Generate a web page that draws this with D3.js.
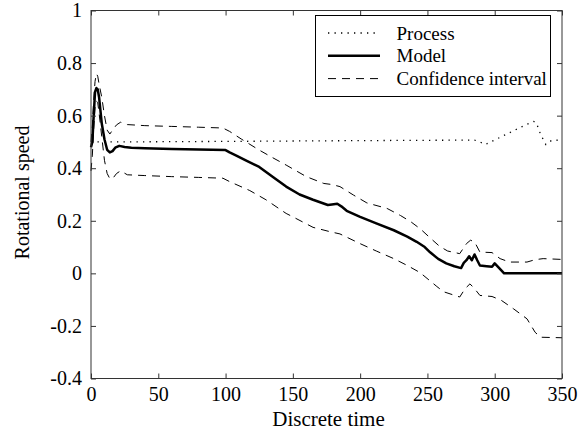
<!DOCTYPE html>
<html><head><meta charset="utf-8">
<script src="https://cdn.jsdelivr.net/npm/d3@7"></script>
<style>body{margin:0;background:#fff}svg{display:block}</style>
</head><body>
<script>
const xTicks = [0,50,100,150,200,250,300,350];
const yTicks = [-0.4,-0.2,0,0.2,0.4,0.6,0.8,1];
const seriesNames = ["Process","Model","Confidence interval"];

const processData = [[0,0.5],[20,0.5],[100,0.502],[200,0.505],[285,0.507],[289,0.5],[293,0.49],[297,0.5],[305,0.52],[315,0.545],[323,0.565],[329,0.578],[331,0.572],[334,0.53],[338,0.49],[342,0.505],[350,0.508]];
const modelData = [[0,0.48],[1,0.5],[2,0.6],[3,0.69],[4,0.705],[5,0.70],[6,0.67],[7,0.62],[8,0.57],[10,0.51],[12,0.47],[14,0.46],[16,0.465],[18,0.478],[21,0.485],[25,0.481],[30,0.478],[40,0.476],[60,0.473],[80,0.471],[100,0.469],[103,0.46],[108,0.448],[115,0.43],[125,0.405],[137,0.36],[145,0.33],[155,0.3],[165,0.28],[176,0.26],[179,0.262],[183,0.265],[186,0.255],[190,0.238],[200,0.215],[212,0.19],[225,0.164],[235,0.14],[242,0.12],[248,0.1],[252,0.08],[258,0.055],[264,0.038],[270,0.027],[275,0.02],[277,0.04],[279,0.05],[281,0.065],[283,0.05],[285,0.072],[287,0.05],[289,0.03],[294,0.027],[298,0.025],[300,0.038],[303,0.022],[307,0.0],[350,0]];
const upperData = [[0,0.5],[1,0.56],[2,0.66],[3,0.73],[4,0.76],[5,0.75],[6,0.72],[8,0.67],[10,0.6],[12,0.545],[14,0.53],[16,0.545],[19,0.565],[22,0.575],[27,0.566],[40,0.562],[60,0.559],[80,0.556],[98,0.553],[103,0.54],[112,0.51],[125,0.469],[135,0.44],[145,0.412],[160,0.368],[173,0.342],[179,0.338],[185,0.33],[195,0.298],[205,0.268],[220,0.247],[230,0.22],[238,0.195],[245,0.168],[252,0.135],[259,0.103],[265,0.085],[274,0.075],[279,0.113],[282,0.126],[285,0.12],[289,0.081],[298,0.079],[304,0.056],[311,0.043],[324,0.043],[330,0.052],[336,0.056],[350,0.053]];
const lowerData = [[0,0.39],[1,0.45],[2,0.55],[3,0.63],[4,0.655],[5,0.65],[6,0.61],[8,0.52],[10,0.43],[12,0.38],[14,0.36],[16,0.36],[19,0.38],[22,0.39],[27,0.375],[40,0.372],[60,0.368],[80,0.365],[98,0.362],[103,0.349],[118,0.315],[130,0.28],[145,0.228],[150,0.215],[165,0.175],[178,0.158],[185,0.15],[200,0.113],[212,0.085],[225,0.056],[235,0.03],[244.5,0.003],[257,-0.05],[262,-0.07],[274,-0.09],[278,-0.058],[281.6,-0.04],[285,-0.058],[289,-0.084],[298,-0.088],[305,-0.103],[314,-0.135],[324,-0.173],[330,-0.224],[334,-0.243],[350,-0.245]];

const FONT = "'Liberation Serif', Tinos, 'Times New Roman', Times, 'DejaVu Serif', serif";
const W = 586, H = 434;
const L = 91, R = 562, T = 10.5, B = 378.5;
const svg = d3.select("body").append("svg").attr("width", W).attr("height", H).style("font-family", FONT);
const x = d3.scaleLinear().domain([0,350]).range([L,R]);
const y = d3.scaleLinear().domain([-0.4,1]).range([B,T]);
const line = d3.line().x(d=>x(d[0])).y(d=>y(d[1]));

const g = svg.append("g");
g.append("path").datum(processData).attr("d",line).attr("fill","none").attr("stroke","#000").attr("stroke-width",1.3).attr("stroke-dasharray","1.3,5.2");
g.append("path").datum(upperData).attr("d",line).attr("fill","none").attr("stroke","#000").attr("stroke-width",1).attr("stroke-dasharray","8,6");
g.append("path").datum(lowerData).attr("d",line).attr("fill","none").attr("stroke","#000").attr("stroke-width",1).attr("stroke-dasharray","8,6");
g.append("path").datum(modelData).attr("d",line).attr("fill","none").attr("stroke","#000").attr("stroke-width",2.5).attr("stroke-linejoin","round");

const fmt = d => String(+d.toFixed(1));
const tl = 5;
const axB = d3.axisBottom(x).tickValues(xTicks).tickSizeInner(-tl).tickSizeOuter(0).tickPadding(8).tickFormat(d=>String(d));
const axT = d3.axisTop(x).tickValues(xTicks).tickSizeInner(-tl).tickSizeOuter(0).tickFormat("");
const axL = d3.axisLeft(y).tickValues(yTicks).tickSizeInner(-tl).tickSizeOuter(0).tickPadding(9).tickFormat(fmt);
const axR = d3.axisRight(y).tickValues(yTicks).tickSizeInner(-tl).tickSizeOuter(0).tickFormat("");
function style(sel){sel.attr("font-family",null).attr("font-size",null);sel.select(".domain").remove();sel.selectAll(".tick line").attr("stroke","#333");sel.selectAll("text").style("font-family",FONT).style("font-size","20px").attr("fill","#000");}
svg.append("g").attr("transform",`translate(0,${B})`).call(axB).call(style);
svg.append("g").attr("transform",`translate(0,${T})`).call(axT).call(style);
svg.append("g").attr("transform",`translate(${L},0)`).call(axL).call(style);
svg.append("g").attr("transform",`translate(${R},0)`).call(axR).call(style);
svg.append("rect").attr("x",L).attr("y",T).attr("width",R-L).attr("height",B-T).attr("fill","none").attr("stroke","#333").attr("stroke-width",1);

svg.append("text").attr("x",(L+R)/2+2).attr("y",426).attr("text-anchor","middle").style("font-size","21px").text("Discrete time");
svg.append("text").attr("transform",`translate(29,${(T+B)/2-2}) rotate(-90)`).attr("text-anchor","middle").style("font-size","20px").text("Rotational speed");

const lg = svg.append("g");
lg.append("rect").attr("x",315.5).attr("y",15.5).attr("width",235).attr("height",81).attr("fill","#fff").attr("stroke","#000").attr("stroke-width",1);
const styles = [{w:1.3,da:"1.3,5.2"},{w:2.5,da:null},{w:1,da:"8,6"}];
seriesNames.forEach((n,i)=>{
  const yy = 33 + i*22.8;
  const l = lg.append("line").attr("x1",328).attr("x2",380).attr("y1",yy).attr("y2",yy).attr("stroke","#000").attr("stroke-width",styles[i].w);
  if(styles[i].da) l.attr("stroke-dasharray",styles[i].da);
  lg.append("text").attr("x",396.5).attr("y",yy+6.5).style("font-size","19px").text(n);
});
</script>
</body></html>
